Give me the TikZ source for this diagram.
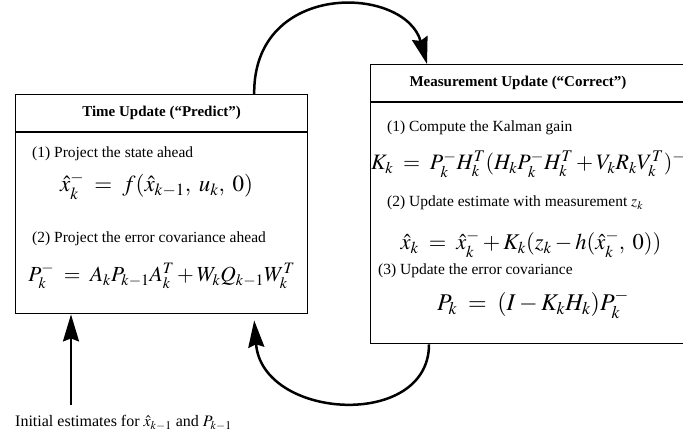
\documentclass[tikz,border=0pt]{standalone}
\usepackage{mathptmx}
\usepackage[no-math]{fontspec}
\setmainfont{Liberation Serif}
\usetikzlibrary{arrows.meta,positioning}
\tikzset{
  headbox/.style={rectangle, draw=black, line width=1.2pt, inner sep=0pt,
    minimum width=#1, minimum height=37pt,
    font=\fontsize{15}{17}\selectfont\bfseries},
  headbox/.default=292pt,
  bodybox/.style={rectangle, draw=black, line width=1.2pt, inner sep=0pt,
    minimum width=292pt, minimum height=#1},
  steptext/.style={anchor=west, inner sep=0pt,
    font=\fontsize{15.5}{17}\selectfont},
  eqn/.style={inner sep=0pt, font=\fontsize{#1}{26}\selectfont},
  eqn/.default=22,
  looparrow/.style={-{Stealth[length=27pt, width=16pt, inset=3pt]},
    line width=2.5pt},
}

\begin{document}
\begin{tikzpicture}[x=1pt, y=-1pt]
  \useasboundingbox (0,0) rectangle (683,437);
  \clip (0,0) rectangle (683,437);
  % time update
  \node[headbox, anchor=north west] at (15,94) (lefthead) {Time Update (``Predict'')};
  \node[bodybox=181pt, below=0pt of lefthead] (leftbody) {};
  \node[steptext] at ([xshift=17pt, yshift=-22pt]leftbody.north west) (lstep1) {(1) Project the state ahead};
  \node[eqn=23] at ([xshift=-5pt, yshift=-54pt]leftbody.north) (leq1) {$\hat{x}_k^- \;=\; f(\hat{x}_{k-1},\; u_k,\; 0)$};
  \node[steptext] at ([xshift=17pt, yshift=-107pt]leftbody.north west) (lstep2) {(2) Project the error covariance ahead};
  \node[eqn=21.5] at ([yshift=-144pt]leftbody.north) (leq2) {$P_k^- \;=\; A_k P_{k-1} A_k^T + W_k Q_{k-1} W_k^T$};
  % measurement update
  \node[headbox=330pt, anchor=north west] at (370,64) (righthead) {};
  \node[headbox, draw=none, minimum height=0pt] at ([xshift=148pt]righthead.west) (rtitle) {Measurement Update (``Correct'')};
  \node[bodybox=241pt, minimum width=330pt, below=0pt of righthead] (rightbody) {};
  \node[steptext] at ([xshift=17pt, yshift=-26pt]rightbody.north west) (rstep1) {(1) Compute the Kalman gain};
  \node[eqn, anchor=west] at ([xshift=1pt, yshift=-62pt]rightbody.north west) (req1) {$K_k \;=\; P_k^- H_k^T (H_k P_k^- H_k^T + V_k R_k V_k^T)^{-1}$};
  \node[steptext] at ([xshift=17pt, yshift=-101pt]rightbody.north west) (rstep2) {(2) Update estimate with measurement $z_k$};
  \node[eqn=22.5] at ([xshift=161pt, yshift=-142pt]rightbody.north west) (req2) {$\hat{x}_k \;=\; \hat{x}_k^- + K_k(z_k - h(\hat{x}_k^-,\; 0))$};
  \node[steptext] at ([xshift=8pt, yshift=-169pt]rightbody.north west) (rstep3) {(3) Update the error covariance};
  \node[eqn=24] at ([xshift=163pt, yshift=-202pt]rightbody.north west) (req3) {$P_k \;=\; (I - K_k H_k) P_k^-$};
  % initial estimates
  \node[steptext, font=\fontsize{16}{18}\selectfont] at (15,423) (init) {Initial estimates for $\hat{x}_{k-1}$ and $P_{k-1}$};
  \coordinate (initfoot) at (71,405);
  \draw[looparrow] (initfoot) -- (initfoot |- leftbody.south);
  % loop
  \draw[looparrow] ([xshift=-54pt]lefthead.north east) .. controls (253,-20) and (405,-15) .. ([xshift=57pt]righthead.north west);
  \draw[looparrow] ([xshift=59pt]rightbody.south west) .. controls (429,430) and (262,420) .. ([xshift=-54pt, yshift=-6pt]leftbody.south east);
\end{tikzpicture}
\end{document}
